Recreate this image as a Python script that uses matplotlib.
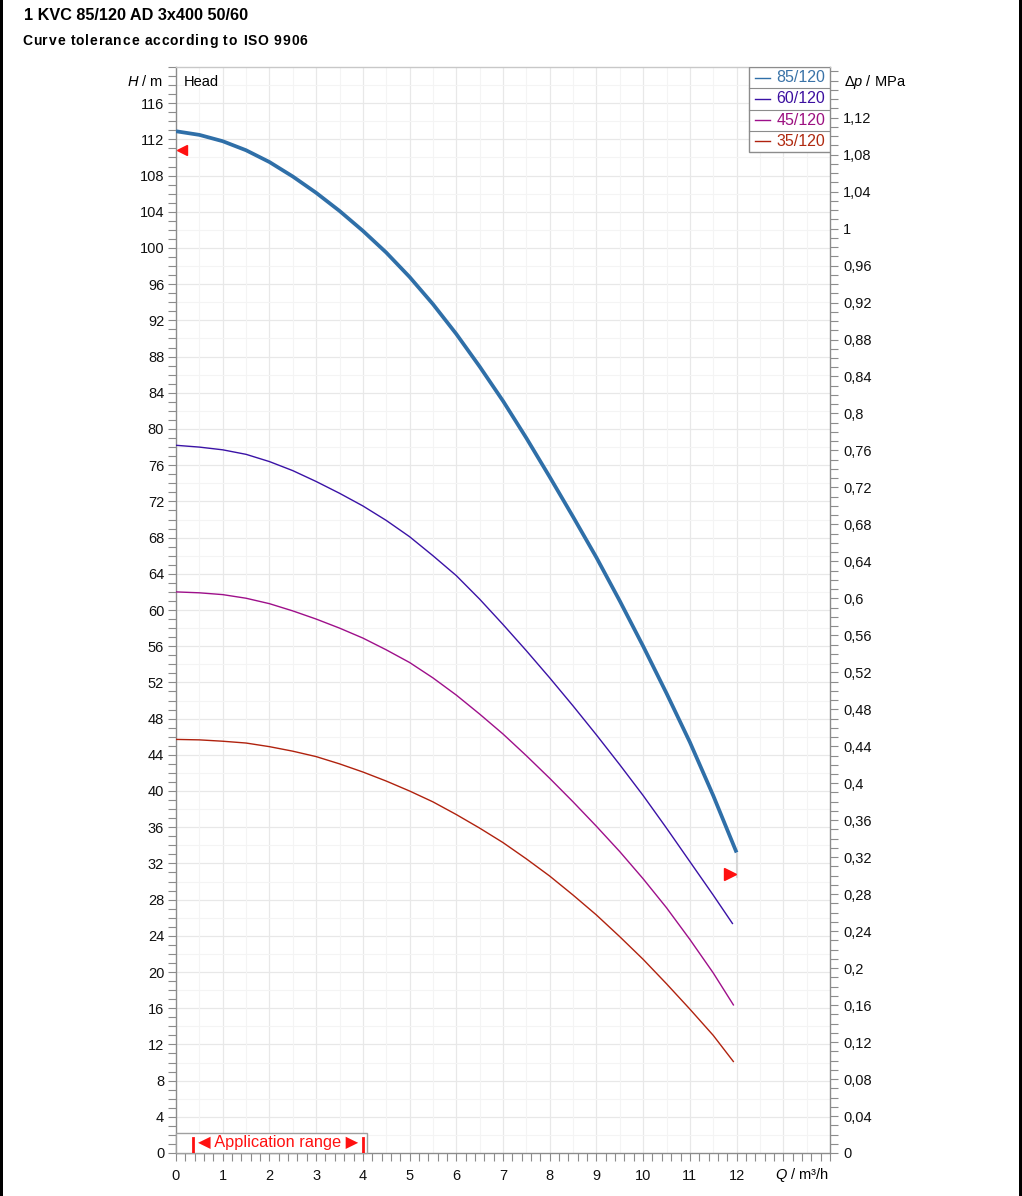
import numpy as np
import matplotlib
matplotlib.use("Agg")
import matplotlib.pyplot as plt
from matplotlib.patches import Rectangle
from matplotlib.lines import Line2D
from matplotlib.font_manager import FontProperties

plt.rcParams['font.family'] = ['Liberation Sans', 'DejaVu Sans']
plt.rcParams['mathtext.fontset'] = 'custom'
plt.rcParams['mathtext.it'] = 'Liberation Sans:italic'
plt.rcParams['mathtext.rm'] = 'Liberation Sans'

# flow Q in m3/h, head H in m
q = [0, 0.5, 1, 1.5, 2, 2.5, 3, 3.5, 4, 4.5, 5, 5.5, 6, 6.5, 7, 7.5,
     8, 8.5, 9, 9.5, 10, 10.5, 11, 11.5]
h_85 = [112.9, 112.5, 111.8, 110.8, 109.5, 107.9, 106.1, 104.1, 101.9, 99.5, 96.8, 93.8,
        90.5, 86.9, 83.1, 79.0, 74.7, 70.3, 65.8, 61.0, 56.0, 50.8, 45.4, 39.5]
h_60 = [78.2, 78.0, 77.7, 77.2, 76.4, 75.4, 74.2, 72.9, 71.5, 69.9, 68.1, 66.0,
        63.8, 61.2, 58.4, 55.5, 52.5, 49.4, 46.2, 42.9, 39.5, 35.9, 32.2, 28.5]
h_45 = [62.0, 61.9, 61.7, 61.3, 60.7, 59.9, 59.0, 58.0, 56.9, 55.6, 54.2, 52.5,
        50.6, 48.5, 46.3, 43.9, 41.4, 38.8, 36.1, 33.3, 30.3, 27.1, 23.6, 19.9]
h_35 = [45.7, 45.65, 45.5, 45.3, 44.9, 44.4, 43.8, 43.0, 42.1, 41.1, 40.0, 38.8,
        37.4, 35.9, 34.3, 32.5, 30.6, 28.5, 26.3, 23.9, 21.4, 18.7, 15.9, 13.0]
q_end = [12.0, 11.92, 11.94, 11.94]
h_end = [33.2, 25.3, 16.3, 10.05]

names = ['85/120', '60/120', '45/120', '35/120']
colors = ['#2f6fa8', '#3a12a6', '#9e0f8a', '#b0220e']
text_colors = ['#3a73a8', '#3c10a0', '#9c1080', '#b02a10']
widths = [2.7, 1.0, 1.0, 1.0]

# tolerance markers
tol_q = [0.12, 11.85]
tol_h = [110.8, 30.8]
# application range
app_q = [0.36, 4.0]

k_mpa = 0.00979   # MPa per metre of head

fig = plt.figure(figsize=(10.22, 11.96), dpi=100)
ax = fig.add_axes([176 / 1022, 43 / 1196, 654 / 1022, 1086 / 1196])

series = [h_85, h_60, h_45, h_35]
for i, hs in enumerate(series):
    ax.plot(q + [q_end[i]], hs + [h_end[i]], color=colors[i], lw=widths[i],
            solid_capstyle='butt', solid_joinstyle='round', zorder=5)

ax.plot([12, 12], [h_end[0] - 0.2, tol_h[1] - 0.3], color='#d8d8d8', lw=1.5, zorder=4)
ax.plot(tol_q[0], tol_h[0], marker='<', color='#ff1010', ms=7, ls='none', zorder=6, clip_on=False)
ax.plot(tol_q[1], tol_h[1], marker='>', color='#ff1010', ms=8, ls='none', zorder=6)

ax.set_xlim(0, 14)
ax.set_ylim(0, 120)
ax.set_xticks(np.arange(0, 15, 1))
ax.set_xticklabels([str(v) if v <= 12 else '' for v in range(15)])
ax.set_xticks(np.arange(0, 14.01, 0.2), minor=True)
ax.set_yticks(np.arange(0, 117, 4))
ax.set_yticks(np.arange(0, 121, 1), minor=True)

# light grid: strong every 1 Q / 4 m, faint every 0.5 Q / 2 m
for x in np.arange(1, 14, 1):
    ax.axvline(x, color='#e8e8e8', lw=0.9, zorder=0)
for y in np.arange(4, 120, 4):
    ax.axhline(y, color='#e8e8e8', lw=0.9, zorder=0)
for x in np.arange(0.5, 14, 1):
    ax.axvline(x, color='#f4f4f4', lw=0.8, zorder=0)
for y in np.arange(2, 120, 4):
    ax.axhline(y, color='#f4f4f4', lw=0.8, zorder=0)

for s in ax.spines.values():
    s.set_color('#8c8c8c')
    s.set_linewidth(1.0)
ax.spines['top'].set_color('#c8c8c8')

ax.tick_params(which='both', direction='out', color='#8c8c8c', length=5.5, width=0.8,
               labelsize=10.5, labelcolor='#111111')
ax.tick_params(axis='y', pad=3)
ax.tick_params(axis='x', pad=6)

ax2 = ax.twinx()
ax2.set_ylim(0, 120 * k_mpa)
ticks = np.arange(0, 1.121, 0.04)
ax2.set_yticks(ticks)
ax2.set_yticklabels([f"{t:.2f}".rstrip('0').rstrip('.').replace('.', ',') for t in ticks])
ax2.set_yticks(np.arange(0, 1.171, 0.01), minor=True)
ax2.tick_params(which='both', direction='out', color='#8c8c8c', length=5.5, width=0.8,
                labelsize=10.5, labelcolor='#111111', pad=4)
for s in ax2.spines.values():
    s.set_visible(False)

# application range box
ax.add_patch(Rectangle((0, 0), 4.09, 2.25, facecolor='white', edgecolor='#a0a0a0',
                       lw=1.0, zorder=7, clip_on=False))
for xq in app_q:
    ax.plot([xq, xq], [0, 1.7], color='#ff1010', lw=2.0, zorder=8)
ax.text((app_q[0] + app_q[1]) / 2, 1.15, '\u25C0 Application range \u25B6', color='#ff1010',
        fontsize=11.8, ha='center', va='center', zorder=8)

# legend drawn as a small table
ax.add_patch(Rectangle((0.8761, 0.9217), 0.1239, 0.0783, transform=ax.transAxes,
                       facecolor='white', edgecolor='#8c8c8c', lw=1.0, zorder=9))
row_h = 0.0783 / 4
for i, name in enumerate(names):
    y0 = 1.0 - (i + 1) * row_h
    if i > 0:
        ax.add_line(Line2D([0.8761, 1.0], [y0 + row_h] * 2, transform=ax.transAxes,
                           color='#8c8c8c', lw=0.8, zorder=10))
    yc = y0 + row_h / 2
    ax.add_line(Line2D([0.886, 0.909], [yc, yc], transform=ax.transAxes,
                       color=colors[i], lw=1.0, zorder=10))
    ax.text(0.993, yc, name, transform=ax.transAxes, color=text_colors[i],
            fontsize=11.5, ha='right', va='center', zorder=10)

ax.text(0.012, 0.993, 'Head', transform=ax.transAxes, fontsize=10.5, ha='left', va='top')

fig.text(163 / 1022, 1 - 82 / 1196, '$H$ / m', fontsize=10.5, ha='right', va='center')
fig.text(844 / 1022, 1 - 82 / 1196, '\u0394$p$ / MPa', fontsize=10.5, ha='left', va='center')
fig.text(829 / 1022, 1 - 1175 / 1196, '$Q$ / m\u00b3/h', fontsize=10.5, ha='right', va='center')

fig.text(24 / 1022, 1 - 16 / 1196, '1 KVC 85/120 AD 3x400 50/60', fontsize=11.7,
         fontweight='bold', ha='left', va='center')

# subtitle with a little letter spacing
sub = 'Curve tolerance according to ISO 9906'
prop = FontProperties(family=['Liberation Sans', 'DejaVu Sans'], weight='bold', size=10)
renderer = fig.canvas.get_renderer()
for i, ch in enumerate(sub):
    w = renderer.get_text_width_height_descent(sub[:i], prop, ismath=False)[0] if i else 0
    fig.text((22 + w + i * 0.85) / 1022, 1 - 41 / 1196, ch, fontproperties=prop,
             ha='left', va='center')

# dark frame strips at the picture edges
fig.patches.append(Rectangle((0, 0), 3 / 1022, 1, transform=fig.transFigure,
                             facecolor='black', edgecolor='none'))
fig.patches.append(Rectangle((1019 / 1022, 0), 3 / 1022, 1, transform=fig.transFigure,
                             facecolor='black', edgecolor='none'))

fig.savefig('out.png', dpi=100)
